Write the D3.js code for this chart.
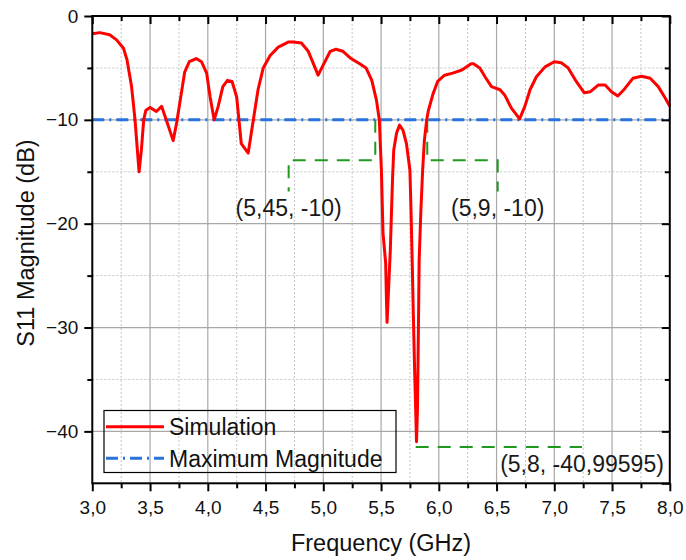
<!DOCTYPE html>
<html>
<head>
<meta charset="utf-8">
<script src="https://cdn.jsdelivr.net/npm/d3@7"></script>
<style>
  html, body { margin: 0; padding: 0; background: #fff; }
  svg { display: block; font-family: "Liberation Sans", Arial, sans-serif; }
</style>
</head>
<body>
<svg id="chart" width="686" height="560"></svg>
<script>
// ---- data ----
const simFreq = [3.00,3.065,3.15,3.21,3.27,3.30,3.34,3.37,3.39,3.405,3.425,3.445,3.463,3.50,3.555,3.60,3.64,3.70,3.73,3.77,3.80,3.84,3.90,3.945,3.99,4.02,4.055,4.09,4.13,4.17,4.21,4.25,4.29,4.35,4.39,4.435,4.48,4.54,4.61,4.70,4.74,4.81,4.87,4.955,5.00,5.06,5.11,5.17,5.24,5.315,5.37,5.42,5.46,5.485,5.503,5.517,5.54,5.547,5.552,5.57,5.58,5.59,5.60,5.61,5.634,5.66,5.69,5.72,5.75,5.76,5.77,5.78,5.79,5.80,5.807,5.815,5.82,5.83,5.845,5.86,5.875,5.895,5.91,5.95,5.99,6.05,6.12,6.20,6.28,6.30,6.355,6.40,6.456,6.53,6.57,6.63,6.70,6.745,6.79,6.845,6.92,7.00,7.06,7.12,7.19,7.26,7.31,7.38,7.44,7.495,7.55,7.61,7.68,7.755,7.83,7.90,7.96,8.00];
const simS11 = [-1.7,-1.6,-1.8,-2.3,-3.1,-4.2,-6.8,-10.0,-12.9,-15.0,-12.9,-10.0,-9.1,-8.8,-9.2,-8.7,-10.0,-12.0,-10.3,-7.5,-5.4,-4.4,-4.1,-4.4,-5.5,-7.8,-10.0,-8.7,-6.8,-6.2,-6.3,-7.8,-12.3,-13.2,-10.3,-7.1,-5.0,-3.8,-3.0,-2.5,-2.5,-2.6,-3.4,-5.7,-4.7,-3.4,-3.2,-3.4,-4.1,-4.6,-5.0,-6.2,-8.1,-10.0,-14.85,-20.9,-23.8,-27.4,-29.5,-25.1,-22.6,-19.0,-15.5,-12.9,-11.3,-10.5,-11.0,-12.3,-14.85,-19.0,-23.8,-29.0,-33.8,-38.0,-41.0,-38.0,-33.5,-23.5,-18.7,-14.85,-12.0,-10.0,-9.1,-7.5,-6.3,-5.7,-5.5,-5.2,-4.6,-4.6,-5.0,-5.85,-6.8,-7.1,-7.6,-8.9,-9.9,-8.7,-7.1,-5.85,-4.9,-4.4,-4.5,-5.0,-6.3,-7.4,-7.3,-6.65,-6.65,-7.3,-7.7,-7.0,-6.0,-5.8,-6.0,-6.8,-7.9,-8.7];
const maxFreq = [3.0, 8.0];
const maxS11 = [-10, -10];
const xTicks = [3.0,3.5,4.0,4.5,5.0,5.5,6.0,6.5,7.0,7.5,8.0];
const yTicks = [0,-10,-20,-30,-40];
const seriesNames = ["Simulation", "Maximum Magnitude"];
// annotated points (x, y) and their labels
const annX = [5.45, 5.9, 5.8];
const annY = [-10, -10, -40.99595];
const annLabel = ["(5,45, -10)", "(5,9, -10)", "(5,8, -40,99595)"];

// ---- layout ----
const svg = d3.select("#chart");
const L = 92.3, R = 669.8, T = 16, B = 483.3;
const x = d3.scaleLinear().domain([3, 8]).range([L, R]);
const y = d3.scaleLinear().domain([-45, 0]).range([B, T]);
const fmtX = d => d3.format(".1f")(d).replace(".", ",");
const fmtY = d => d === 0 ? "0" : "\u2212" + Math.abs(d);

svg.append("rect").attr("width", 686).attr("height", 560).attr("fill", "#fff");

const xMinor = d3.range(3.25, 8, 0.5);
const yMinor = d3.range(-5, -45, -10);

// grid
const grid = svg.append("g");
grid.selectAll(".gxm").data(xMinor).join("line")
  .attr("x1", d => x(d)).attr("x2", d => x(d)).attr("y1", T).attr("y2", B)
  .attr("stroke", "#c4c4c4").attr("stroke-width", 1).attr("stroke-dasharray", "2,2");
grid.selectAll(".gym").data(yMinor).join("line")
  .attr("y1", d => y(d)).attr("y2", d => y(d)).attr("x1", L).attr("x2", R)
  .attr("stroke", "#c4c4c4").attr("stroke-width", 1).attr("stroke-dasharray", "2,2");
grid.selectAll(".gx").data(xTicks.slice(1, -1)).join("line")
  .attr("x1", d => x(d)).attr("x2", d => x(d)).attr("y1", T).attr("y2", B)
  .attr("stroke", "#a8a8a8").attr("stroke-width", 1.2);
grid.selectAll(".gy").data(yTicks.slice(1)).join("line")
  .attr("y1", d => y(d)).attr("y2", d => y(d)).attr("x1", L).attr("x2", R)
  .attr("stroke", "#a8a8a8").attr("stroke-width", 1.2);

// annotations (green dashed leaders)
const green = "#1f9a1f";
const annG = svg.append("g").attr("fill", "none").attr("stroke", green)
  .attr("stroke-width", 2).attr("stroke-dasharray", "13,9");
const annPath = [
  [[annX[0],annY[0]],[annX[0],-13.9],[4.70,-13.9],[4.70,-16.9]],
  [[annX[1],annY[1]],[annX[1],-13.9],[6.51,-13.9],[6.51,-16.9]],
  [[annX[2],-41.5],[7.24,-41.5]]
];
const line = d3.line().x(d => x(d[0])).y(d => y(d[1]));
annG.selectAll("path").data(annPath).join("path").attr("d", line);

// maximum magnitude line
svg.append("path")
  .datum(maxFreq.map((f, i) => [f, maxS11[i]]))
  .attr("d", line).attr("fill", "none").attr("stroke", "#2a72dc")
  .attr("stroke-width", 3).attr("stroke-dasharray", "12,5,2,5");

// simulation line
svg.append("path")
  .datum(simFreq.map((f, i) => [f, simS11[i]]))
  .attr("d", line).attr("fill", "none").attr("stroke", "#ff0000")
  .attr("stroke-width", 3).attr("stroke-linejoin", "round");

// annotation labels
const annLabelPos = [[4.70, -19.3], [6.51, -19.3], [7.24, -43.9]];
svg.selectAll(".annlab").data(annLabel).join("text")
  .attr("x", (d, i) => x(annLabelPos[i][0]))
  .attr("y", (d, i) => y(annLabelPos[i][1]))
  .attr("text-anchor", "middle").attr("font-size", 23).attr("fill", "#1a1a1a")
  .text(d => d);

// frame
svg.append("rect").attr("x", L).attr("y", T).attr("width", R - L).attr("height", B - T)
  .attr("fill", "none").attr("stroke", "#000").attr("stroke-width", 2);

// axes
const axB = svg.append("g").attr("transform", `translate(0,${B})`)
  .call(d3.axisBottom(x).tickValues(xTicks).tickFormat(fmtX).tickSize(8).tickPadding(9));
const axBm = svg.append("g").attr("transform", `translate(0,${B})`)
  .call(d3.axisBottom(x).tickValues(xMinor).tickFormat("").tickSize(5));
const axT = svg.append("g").attr("transform", `translate(0,${T})`)
  .call(d3.axisBottom(x).tickValues(xTicks).tickFormat("").tickSize(8));
const axTm = svg.append("g").attr("transform", `translate(0,${T})`)
  .call(d3.axisBottom(x).tickValues(xMinor).tickFormat("").tickSize(5));
const axL = svg.append("g").attr("transform", `translate(${L},0)`)
  .call(d3.axisLeft(y).tickValues(yTicks).tickFormat(fmtY).tickSize(8).tickPadding(6));
const axLm = svg.append("g").attr("transform", `translate(${L},0)`)
  .call(d3.axisLeft(y).tickValues(yMinor).tickFormat("").tickSize(5));
const axR = svg.append("g").attr("transform", `translate(${R},0)`)
  .call(d3.axisLeft(y).tickValues(yTicks.concat([-45])).tickFormat("").tickSize(8));
const axRm = svg.append("g").attr("transform", `translate(${R},0)`)
  .call(d3.axisLeft(y).tickValues(yMinor).tickFormat("").tickSize(5));

[axB, axBm, axT, axTm, axL, axLm, axR, axRm].forEach(g => {
  g.select(".domain").remove();
  g.selectAll(".tick line").attr("stroke", "#000").attr("stroke-width", 2);
  g.selectAll("text").attr("font-size", 19).attr("fill", "#111")
    .attr("font-family", "'Liberation Sans', Arial, sans-serif");
});

// axis titles
svg.append("text").attr("x", (L + R) / 2).attr("y", 551)
  .attr("text-anchor", "middle").attr("font-size", 23.5).attr("fill", "#111")
  .text("Frequency (GHz)");
svg.append("text").attr("transform", `translate(34,243) rotate(-90)`)
  .attr("text-anchor", "middle").attr("font-size", 23.5).attr("fill", "#111")
  .text("S11 Magnitude (dB)");

// legend
const lg = svg.append("g");
lg.append("rect").attr("x", 104).attr("y", 410.5).attr("width", 292).attr("height", 62)
  .attr("fill", "none").attr("stroke", "#000").attr("stroke-width", 1.2);
const lgStroke = ["#ff0000", "#2a72dc"];
const lgDash = [null, "12,5,2,5"];
lg.selectAll(".ls").data(seriesNames).join("line")
  .attr("x1", 106).attr("x2", 164)
  .attr("y1", (d, i) => 426.7 + i * 31.6).attr("y2", (d, i) => 426.7 + i * 31.6)
  .attr("stroke", (d, i) => lgStroke[i]).attr("stroke-width", 3)
  .attr("stroke-dasharray", (d, i) => lgDash[i]);
lg.selectAll(".lt").data(seriesNames).join("text")
  .attr("x", 169).attr("y", (d, i) => 435 + i * 31.6)
  .attr("font-size", 23).attr("fill", "#111").text(d => d);
</script>
</body>
</html>
